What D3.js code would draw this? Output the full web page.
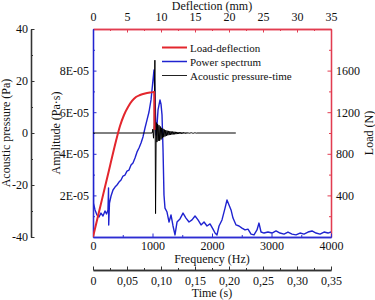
<!DOCTYPE html>
<html>
<head>
<meta charset="utf-8">
<script src="https://cdn.jsdelivr.net/npm/d3@7"></script>
<style>
  body { margin: 0; background: #fff; }
  svg { display: block; font-family: "Liberation Serif", "Times New Roman", serif; }
</style>
</head>
<body>
<div id="chart"></div>
<script>
// load-deflection curve (top / right axes)
const deflection = [0, 0.88, 1.76, 2.5, 3.38, 3.97, 4.56, 5.15, 5.74, 6.32, 6.91, 7.65, 8.38, 8.82, 9.0, 9.05];
const load = [0, 240, 481, 683, 923, 1067, 1173, 1250, 1308, 1346, 1365, 1380, 1389, 1393, 1394, 1030];

// power spectrum (bottom / inner left axes)
const frequency = [0, 8, 34, 67, 101, 134, 168, 202, 227, 252, 261, 264, 277, 303, 336, 370, 403, 437, 471, 504,
  538, 571, 605, 639, 672, 706, 740, 773, 807, 840, 874, 908, 941, 975, 1000, 1025, 1042, 1059, 1076, 1093,
  1126, 1143, 1160, 1177, 1193, 1210, 1244, 1278, 1311, 1345, 1378, 1412, 1462, 1513, 1563, 1614, 1664, 1715,
  1765, 1816, 1866, 1916, 1967, 2017, 2051, 2084, 2118, 2168, 2219, 2252, 2286, 2320, 2353, 2404, 2454, 2504,
  2555, 2605, 2656, 2706, 2756, 2790, 2824, 2874, 2941, 3008, 3076, 3143, 3210, 3277, 3345, 3412, 3479, 3546,
  3614, 3681, 3748, 3816, 3883, 3950, 4000];
const amplitude = [1.0e-4, 1.63e-5, 1.30e-5, 1.06e-5, 0.96e-5, 1.15e-5, 1.01e-5, 1.25e-5, 1.11e-5, 1.30e-5, 2.36e-5, 0.58e-5,
  1.63e-5, 1.97e-5, 2.26e-5, 2.40e-5, 2.50e-5, 2.64e-5, 2.74e-5, 2.93e-5, 2.98e-5, 3.17e-5, 3.22e-5, 3.46e-5,
  3.56e-5, 3.80e-5, 4.09e-5, 4.28e-5, 4.52e-5, 4.81e-5, 5.24e-5, 5.63e-5, 6.01e-5, 6.59e-5, 7.31e-5, 8.03e-5,
  6.83e-5, 4.90e-5, 5.38e-5, 6.11e-5, 6.59e-5, 6.39e-5, 5.87e-5, 4.18e-5, 2.02e-5, 1.39e-5, 1.20e-5, 0.72e-5,
  1.06e-5, 0.53e-5, 0.10e-5, 0.72e-5, 0.87e-5, 1.15e-5, 0.91e-5, 0.72e-5, 0.82e-5, 1.01e-5, 0.82e-5, 0.58e-5,
  0.72e-5, 0.53e-5, 0.63e-5, 0.38e-5, 0.19e-5, 0.10e-5, 0.53e-5, 0.82e-5, 1.39e-5, 1.78e-5, 1.54e-5, 1.30e-5,
  0.91e-5, 0.58e-5, 0.53e-5, 0.43e-5, 0.34e-5, 0.38e-5, 0.14e-5, 0.10e-5, 0.34e-5, 0.67e-5, 0.24e-5, 0.19e-5,
  0.24e-5, 0.19e-5, 0.29e-5, 0.19e-5, 0.14e-5, 0.24e-5, 0.14e-5, 0.10e-5, 0.19e-5, 0.14e-5, 0.24e-5, 0.29e-5,
  0.19e-5, 0.14e-5, 0.24e-5, 0.19e-5, 0.24e-5];

// acoustic pressure-time signal (outer left / time axes)
const signalStart = 0, signalEnd = 0.21;
const burstStart = 0.087, burstStep = 0.001;
const burst = [0, 1.5, -2, 3, 28, -31, 4, -3.5, 3.5, -3, 3, -3, 2.5, -2.5, 2, -2, 1.6, -1.6, 1.3, -1.3, 1.1, -1.1,
  0.9, -0.9, 0.8, -0.8, 0.7, -0.7, 0.6, -0.6, 0.55, -0.55, 0.5, -0.5, 0.45, -0.45, 0.4, -0.4, 0.35, -0.35, 0.3,
  -0.3, 0.3, -0.3, 0.25, -0.25, 0.25, -0.2, 0.2, -0.2, 0.2, -0.2, 0.15, -0.15, 0.15, -0.15, 0.1, -0.1, 0.1, -0.1,
  0.1, -0.1, 0.08, -0.08, 0.05, -0.05, 0];

// ticks
const deflTicks = [0, 5, 10, 15, 20, 25, 30, 35];
const deflMinor = [2.5, 7.5, 12.5, 17.5, 22.5, 27.5, 32.5];
const loadTicks = [400, 800, 1200, 1600];
const loadMinor = [200, 600, 1000, 1400, 1800];
const ampTicks = [2e-5, 4e-5, 6e-5, 8e-5];
const ampTickLabels = ["2E-05", "4E-05", "6E-05", "8E-05"];
const ampMinor = [1e-5, 3e-5, 5e-5, 7e-5, 9e-5];
const freqTicks = [0, 1000, 2000, 3000, 4000];
const freqMinor = [500, 1500, 2500, 3500];
const presTicks = [-40, -20, 0, 20, 40];
const presMinor = [-30, -10, 10, 30];
const timeTicks = [0, 0.05, 0.10, 0.15, 0.20, 0.25, 0.30, 0.35];
const timeTickLabels = ["0", "0,05", "0,10", "0,15", "0,20", "0,25", "0,30", "0,35"];
const timeMinor = [0.025, 0.075, 0.125, 0.175, 0.225, 0.275, 0.325];

const legendItems = [
  {label: "Load-deflection", color: "#e3262d", width: 2},
  {label: "Power spectrum", color: "#1f23d0", width: 1.5},
  {label: "Acoustic pressure-time", color: "#222", width: 1}
];

const width = 375, height = 300;
const plotLeft = 93, plotRight = 331, plotTop = 29, plotBottom = 237;
const redAxis = "#e23c50", blueAxis = "#2d2dd2";

const xDefl = d3.scaleLinear().domain([0, 35]).range([plotLeft, plotRight]);
const xFreq = d3.scaleLinear().domain([0, 4000]).range([plotLeft, plotRight]);
const xTime = d3.scaleLinear().domain([0, 0.35]).range([plotLeft, plotRight]);
const yLoad = d3.scaleLinear().domain([0, 2000]).range([plotBottom, plotTop]);
const yAmp = d3.scaleLinear().domain([0, 1e-4]).range([plotBottom, plotTop]);
const yPres = d3.scaleLinear().domain([-40, 40]).range([plotBottom, plotTop]);

const svg = d3.select("#chart").append("svg")
    .attr("width", width)
    .attr("height", height)
    .attr("viewBox", [0, 0, width, height]);

svg.append("defs").append("clipPath").attr("id", "plot")
  .append("rect").attr("x", plotLeft).attr("y", plotTop - 1)
  .attr("width", plotRight - plotLeft).attr("height", plotBottom - plotTop + 1);

// draw one axis with labelled major ticks and short unlabelled minor ticks
function addAxis(axisFn, scale, major, minor, labels, pos, color, padding) {
  const g = svg.append("g").attr("transform", pos);
  const minorAxis = axisFn(scale).tickValues(minor).tickSizeInner(-2).tickSizeOuter(0).tickFormat("");
  g.append("g").call(minorAxis);
  const majorAxis = axisFn(scale).tickValues(major).tickSizeInner(-3.5).tickSizeOuter(0)
      .tickPadding(padding).tickFormat((d, i) => labels[i]);
  g.append("g").call(majorAxis);
  g.selectAll("path.domain").attr("stroke", color).attr("stroke-width", 1.3);
  g.selectAll("line").attr("stroke", color);
  g.selectAll("text").attr("fill", "#111").attr("font-size", 12).attr("font-family", "Liberation Serif, serif");
  return g;
}

addAxis(d3.axisTop, xDefl, deflTicks, deflMinor, deflTicks.map(String), `translate(0,${plotTop})`, redAxis, 8);
addAxis(d3.axisRight, yLoad, loadTicks, loadMinor, loadTicks.map(String), `translate(${plotRight},0)`, redAxis, 5);
addAxis(d3.axisLeft, yAmp, ampTicks, ampMinor, ampTickLabels, `translate(${plotLeft},0)`, blueAxis, 4);
addAxis(d3.axisBottom, xFreq, freqTicks, freqMinor, freqTicks.map(String), `translate(0,${plotBottom})`, blueAxis, 4);
addAxis(d3.axisLeft, yPres, presTicks, presMinor, presTicks.map(String), "translate(31,0)", "#333", 3);
addAxis(d3.axisBottom, xTime, timeTicks, timeMinor, timeTickLabels, "translate(0,270)", "#333", 6);

// curves
const spectrum = frequency.map((f, i) => [f, amplitude[i]]);
svg.append("path")
    .datum(spectrum)
    .attr("clip-path", "url(#plot)")
    .attr("fill", "none")
    .attr("stroke", "#1f23d0")
    .attr("stroke-width", 1.4)
    .attr("stroke-linejoin", "round")
    .attr("d", d3.line().x(d => xFreq(d[0])).y(d => yAmp(d[1])));

const signal = [[signalStart, 0]]
  .concat(burst.map((p, i) => [burstStart + i * burstStep, p]))
  .concat([[signalEnd, 0]]);
svg.append("path")
    .datum(signal)
    .attr("clip-path", "url(#plot)")
    .attr("fill", "none")
    .attr("stroke", "#000")
    .attr("stroke-width", 1)
    .attr("d", d3.line().x(d => xTime(d[0])).y(d => yPres(d[1])));

const loadCurve = deflection.map((d, i) => [d, load[i]]);
svg.append("path")
    .datum(loadCurve)
    .attr("clip-path", "url(#plot)")
    .attr("fill", "none")
    .attr("stroke", "#e3262d")
    .attr("stroke-width", 2)
    .attr("stroke-linejoin", "round")
    .attr("d", d3.line().curve(d3.curveMonotoneX).x(d => xDefl(d[0])).y(d => yLoad(d[1])));

// axis titles
const titles = [
  {text: "Deflection (mm)", x: (plotLeft + plotRight) / 2, y: 10, rot: 0},
  {text: "Frequency (Hz)", x: (plotLeft + plotRight) / 2, y: 263, rot: 0},
  {text: "Time (s)", x: (plotLeft + plotRight) / 2, y: 297, rot: 0},
  {text: "Acoustic pressure (Pa)", x: 10, y: 133, rot: -90},
  {text: "Amplitude (Pa·s)", x: 60, y: 133, rot: -90},
  {text: "Load (N)", x: 373, y: 133, rot: -90}
];
svg.selectAll("text.title")
  .data(titles)
  .enter().append("text")
    .attr("class", "title")
    .attr("transform", d => `translate(${d.x},${d.y}) rotate(${d.rot})`)
    .attr("text-anchor", "middle")
    .attr("font-size", 12)
    .attr("fill", "#111")
    .text(d => d.text);

// legend
const legend = svg.append("g").attr("transform", "translate(162,47.5)");
legendItems.forEach((item, i) => {
  const row = legend.append("g").attr("transform", `translate(0,${i * 14})`);
  row.append("line").attr("x1", 0).attr("x2", 25).attr("y1", 0).attr("y2", 0)
    .attr("stroke", item.color).attr("stroke-width", item.width);
  row.append("text").attr("x", 28).attr("y", 4).attr("font-size", 11).attr("fill", "#111").text(item.label);
});
</script>
</body>
</html>
